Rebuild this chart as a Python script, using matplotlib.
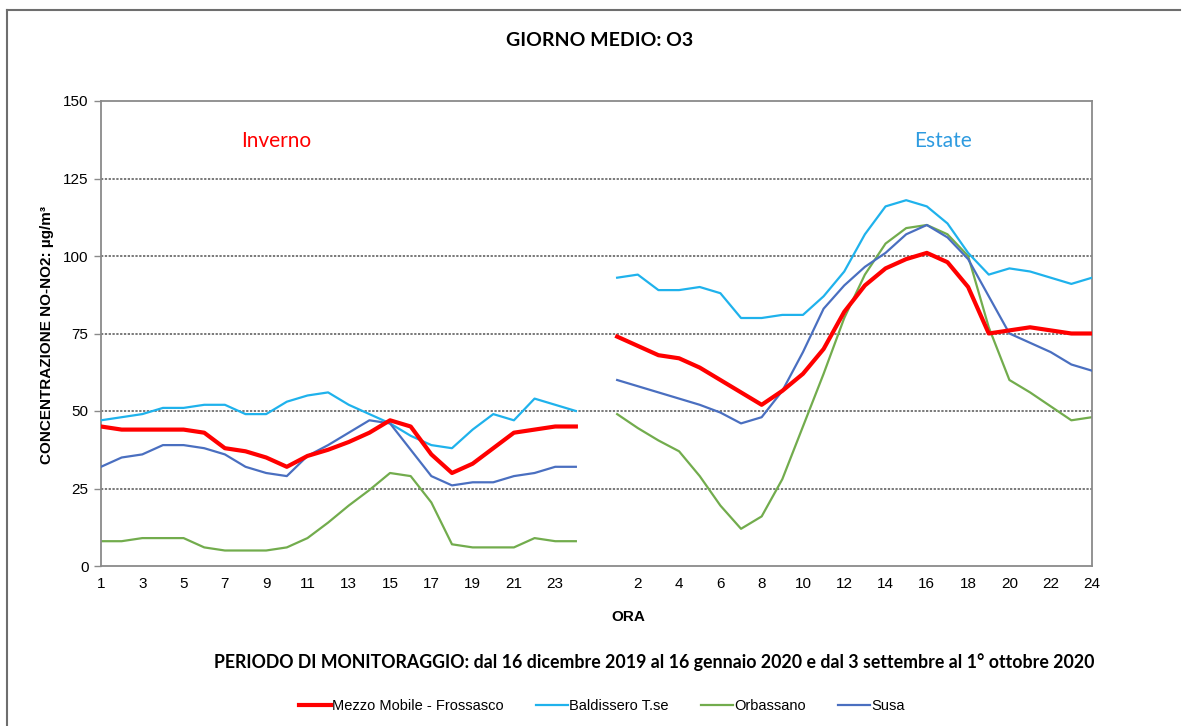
import matplotlib
matplotlib.use("Agg")
import matplotlib.pyplot as plt
from matplotlib.lines import Line2D

# ---------------------------------------------------------------------------
# dati: giorno medio O3, ore 1-24 (inverno) e 1-24 (estate)
ORE = list(range(1, 25))

MEZZO_INV = [45, 44, 44, 44, 44, 43, 38, 37, 35, 32, 35.5, 37.5,
             40, 43, 47, 45, 36, 30, 33, 38, 43, 44, 45, 45]
BALD_INV = [47, 48, 49, 51, 51, 52, 52, 49, 49, 53, 55, 56,
            52, 49, 46, 42, 39, 38, 44, 49, 47, 54, 52, 50]
ORBA_INV = [8, 8, 9, 9, 9, 6, 5, 5, 5, 6, 9, 14,
            19.5, 24.5, 30, 29, 20.5, 7, 6, 6, 6, 9, 8, 8]
SUSA_INV = [32, 35, 36, 39, 39, 38, 36, 32, 30, 29, 35.5, 39,
            43, 47, 46, 37.5, 29, 26, 27, 27, 29, 30, 32, 32]

MEZZO_EST = [74, 71, 68, 67, 64, 60, 56, 52, 56.5, 62, 70, 82,
             90.5, 96, 99, 101, 98, 90, 75, 76, 77, 76, 75, 75]
BALD_EST = [93, 94, 89, 89, 90, 88, 80, 80, 81, 81, 87, 95,
            107, 116, 118, 116, 110.5, 101, 94, 96, 95, 93, 91, 93]
ORBA_EST = [49, 44.5, 40.5, 37, 29, 19.5, 12, 16, 28, 45, 62, 80,
            94, 104, 109, 110, 107, 100, 77, 60, 56, 51.5, 47, 48]
SUSA_EST = [60, 58, 56, 54, 52, 49.5, 46, 48, 56.5, 69, 83, 90.5,
            96.5, 101, 107, 110, 106, 99, 87, 75, 72, 69, 65, 63]

SERIE = ["Mezzo Mobile - Frossasco", "Baldissero T.se", "Orbassano", "Susa"]

C_RED = "#FF0000"
C_LBLUE = "#1FB2EC"
C_GREEN = "#72AC4D"
C_BLUE = "#4A6FC0"
C_GRID = "#555555"
C_SPINE = "#8A8A8A"

# l'estate parte dopo una pausa di due posizioni
OFFSET = 25
x_inv = ORE
x_est = [h + OFFSET for h in ORE]

fig = plt.figure(figsize=(11.88, 7.26), dpi=100)
ax = fig.add_axes([101 / 1188, 160 / 726, 991 / 1188, 465 / 726])

styles = [
    (MEZZO_INV, MEZZO_EST, C_RED, 3.0, 4),
    (BALD_INV, BALD_EST, C_LBLUE, 1.6, 3),
    (ORBA_INV, ORBA_EST, C_GREEN, 1.6, 2),
    (SUSA_INV, SUSA_EST, C_BLUE, 1.6, 3),
]
for inv, est, col, lw, z in styles:
    ax.plot(x_inv, inv, color=col, lw=lw, zorder=z, solid_joinstyle="round")
    ax.plot(x_est, est, color=col, lw=lw, zorder=z, solid_joinstyle="round")

ax.set_xlim(1, 49)
ax.set_ylim(0, 150)
ax.set_yticks([0, 25, 50, 75, 100, 125, 150])

xt = list(range(1, 24, 2)) + [h + OFFSET for h in range(2, 25, 2)]
xl = [str(h) for h in range(1, 24, 2)] + [str(h) for h in range(2, 25, 2)]
ax.set_xticks(xt)
ax.set_xticklabels(xl)

for t in ax.get_xticklabels() + ax.get_yticklabels():
    t.set_fontfamily("Liberation Sans")
    t.set_fontsize(11)
ax.tick_params(axis="x", length=0, pad=8)
ax.tick_params(axis="y", length=5, width=1, color=C_SPINE, pad=4)

for y in [25, 50, 75, 100, 125]:
    ax.axhline(y, color=C_GRID, lw=1.1, ls=(0, (1.5, 1)), zorder=1)

for s in ax.spines.values():
    s.set_color(C_SPINE)
    s.set_linewidth(1.3)

fig.text(47 / 1188, 1 - 335 / 726, "CONCENTRAZIONE NO-NO2: µg/m³", fontsize=11,
         fontweight="bold", family="Liberation Sans", rotation=90,
         ha="center", va="center")
fig.text(628 / 1188, 1 - 617 / 726, "ORA", fontsize=11, fontweight="bold",
         family="Liberation Sans", ha="center", va="center")

ax.text(9.5, 137, "Inverno", color=C_RED, fontsize=15,
        family="Lato", ha="center", va="center")
ax.text(41.8, 137, "Estate", color="#2E9BE0", fontsize=15,
        family="Lato", ha="center", va="center")

fig.text(600 / 1188, 1 - 40 / 726, "GIORNO MEDIO: O3", fontsize=14,
         fontweight="bold", family="Lato", ha="center", va="center")
fig.text(654 / 1188, 1 - 662 / 726,
         "PERIODO DI MONITORAGGIO: dal 16 dicembre 2019 al 16 gennaio 2020 "
         "e dal 3 settembre al 1° ottobre 2020",
         fontsize=12.8, fontweight="bold", family="Lato",
         ha="center", va="center")

handles = [Line2D([], [], color=c, lw=lw) for _, _, c, lw, _ in styles]
fig.legend(handles, SERIE, loc="center", bbox_to_anchor=(602 / 1188, 1 - 706 / 726),
           ncol=4, frameon=False, handlelength=2.2, handletextpad=0.1,
           columnspacing=2.2,
           prop={"family": ["Liberation Sans Narrow", "Liberation Sans"], "size": 10.5})

# cornice esterna (solo lati sinistro e superiore visibili)
fig.add_artist(Line2D([7 / 1188, 7 / 1188], [0, 1 - 10 / 726],
                      transform=fig.transFigure, color="#6E6E6E", lw=1.5))
fig.add_artist(Line2D([7 / 1188, 1180 / 1188], [1 - 10 / 726, 1 - 10 / 726],
                      transform=fig.transFigure, color="#6E6E6E", lw=1.5))

fig.savefig("out.png", dpi=100)
